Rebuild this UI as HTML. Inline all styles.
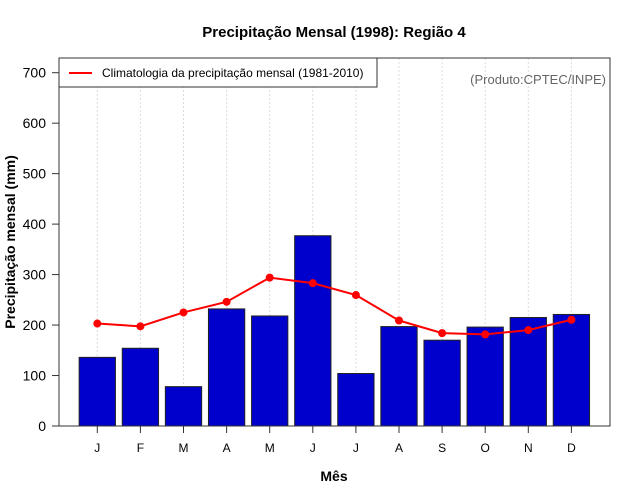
<!DOCTYPE html>
<html><head><meta charset="utf-8"><style>
html,body{margin:0;padding:0;background:#fff;}
svg{display:block;font-family:"Liberation Sans",sans-serif;}
</style></head><body>
<svg id="chart" width="640" height="500" viewBox="0 0 640 500"></svg>
<script>
const months = ["J","F","M","A","M","J","J","A","S","O","N","D"];
const precip1998 = [136,154,78,232,218,377,104,197,170,196,215,221];
const climatology = [203,197.5,225,246,294,283,259.5,209,184,181.5,190,210.5];
const yTicks = [0,100,200,300,400,500,600,700];

const NS="http://www.w3.org/2000/svg";
const svg=document.getElementById('chart');
const L=59,R=610,T=58,B=426;
const x0=97.3,dx=43.1,bw=36.3;
function xs(i){return x0+i*dx;}
function ys(v){return B-v*(353.3/700);}
function mk(tag,attrs,parent){const e=document.createElementNS(NS,tag);for(const k in attrs)e.setAttribute(k,attrs[k]);(parent||svg).appendChild(e);return e;}

// grid
months.forEach((m,i)=>{
  const g=mk('line',{x1:xs(i),x2:xs(i),y1:T,y2:B,stroke:'#dcdcdc','stroke-dasharray':'2,2','stroke-width':1});
  
  
});
// bars
precip1998.forEach((v,i)=>{
  const r=mk('rect',{x:xs(i)-bw/2,y:ys(v),width:bw,height:B-ys(v),fill:'#0000cd',stroke:'#222','stroke-width':1});
  
  
});
// line
const pts=climatology.map((v,i)=>xs(i)+','+ys(v)).join(' ');
const pl=mk('polyline',{points:pts,fill:'none',stroke:'#ff0000','stroke-width':2});


climatology.forEach((v,i)=>{
  const c=mk('circle',{cx:xs(i),cy:ys(v),r:4,fill:'#ff0000'});
  
  
});
// frame
const fr=mk('rect',{x:L,y:T,width:R-L,height:B-T,fill:'none',stroke:'#333','stroke-width':1});


// y ticks
yTicks.forEach(v=>{
  const t=mk('line',{x1:52,x2:L,y1:ys(v),y2:ys(v),stroke:'#333'});
  
  
  const tx=mk('text',{x:46,y:ys(v)+5,'text-anchor':'end','font-size':14,fill:'#000'});
  tx.textContent=v;
  
  
});
// x ticks
months.forEach((m,i)=>{
  const t=mk('line',{x1:xs(i),x2:xs(i),y1:B,y2:B+7,stroke:'#333'});
  
  
  const tx=mk('text',{x:xs(i),y:452,'text-anchor':'middle','font-size':12,fill:'#000'});
  tx.textContent=m;
  
  
});
</script>
<svg width="640" height="500" style="position:absolute;left:0;top:0">
  <text x="334" y="37" text-anchor="middle" font-size="15" font-weight="bold" font-family="Liberation Sans,sans-serif">Precipitação Mensal (1998): Região 4</text>
  <text x="334" y="481" text-anchor="middle" font-size="14" font-weight="bold" font-family="Liberation Sans,sans-serif">Mês</text>
  <text transform="translate(15,242) rotate(-90)" text-anchor="middle" font-size="14" font-weight="bold" font-family="Liberation Sans,sans-serif">Precipitação mensal (mm)</text>
  <g>
    <rect x="59" y="58" width="318" height="29" fill="#fff" stroke="#333"/>
    <line x1="69" y1="73" x2="92" y2="73" stroke="#ff0000" stroke-width="2"/>
    <text x="102" y="77" font-size="12" font-family="Liberation Sans,sans-serif">Climatologia da precipitação mensal (1981-2010)</text>
  </g>
  <text x="606" y="84" text-anchor="end" font-size="13" fill="#666" font-family="Liberation Sans,sans-serif">(Produto:CPTEC/INPE)</text>
</svg>
</body></html>
